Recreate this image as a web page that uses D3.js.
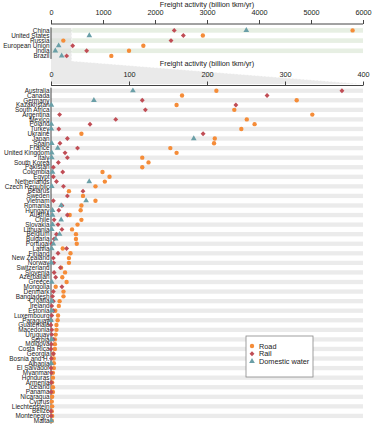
<!DOCTYPE html>
<html>
<head>
<meta charset="utf-8">
<script src="https://cdn.jsdelivr.net/npm/d3@7"></script>
<style>
  body { margin: 0; background: #fff; }
  svg { font-family: "Liberation Sans", Arial, sans-serif; display: block; }
</style>
</head>
<body>
<div id="container"></div>
<script>
// freight activity by mode: big six on top, zoomed view of the rest below

const topCountries = ["China", "United States", "Russia", "European Union", "India", "Brazil"];
const topRoad  = [5800, 2920, 237, 1776, 1500, 1160];
const topRail  = [2370, 2545, 2308, 417, 686, 301];
const topWater = [3756, 737, null, 147, 83, 205];
const topTicks = [0, 1000, 2000, 3000, 4000, 5000, 6000];

const countries = ["Australia", "Canada", "Germany", "Kazakhstan", "South Africa", "Argentina",
  "Mexico", "Poland", "Turkey", "Ukraine", "Japan", "Spain", "France", "United Kingdom", "Italy",
  "South Korea", "Pakistan", "Colombia", "Egypt", "Netherlands", "Czech Republic", "Belarus",
  "Sweden", "Vietnam", "Romania", "Hungary", "Austria", "Chile", "Slovakia", "Lithuania",
  "Belgium", "Bulgaria", "Portugal", "Latvia", "Finland", "New Zealand", "Norway", "Switzerland",
  "Slovenia", "Azerbaijan", "Greece", "Mongolia", "Denmark", "Bangladesh", "Croatia", "Ireland",
  "Estonia", "Luxembourg", "Paraguay", "Guatemala", "Macedonia", "Uruguay", "Serbia", "Moldova",
  "Costa Rica", "Georgia", "Bosnia and H.", "Albania", "El Salvador", "Myanmar", "Honduras",
  "Armenia", "Iceland", "Panama", "Nicaragua", "Cyprus", "Liechtenstein", "Belize",
  "Montenegro", "Malta"];
const road = [212, 168, 315, 161, 235, 335, 251, 261, 244, 39, 210, 209, 153, 161, 117,
  125, 117, 66, 75, 69, 57, 23, 41, 57, 39, 38, 24, 39, 34, 27,
  32, 32, 33, 15, 25, 23, 23, 13, 18, 14.5, 20, 6, 16, 16, 11, 10,
  5.5, 9, 8.5, 7, 7, 6, 5, 5, 5, 3, 3.5, 3.7, 3.7, 2.5, 2.5,
  1.5, 2.5, 2.5, 1.5, 1, 1.5, 1, 1.5, 1];
const rail = [373, 277, 117, 237, 121, 11, 83, 50, 10, 195, 21, 11.5, 34, 18, 21,
  9.4, 3, 15, 3, 7, 16, 41, 21, 3, 14, 10, 21, 4, 9, 14,
  7, 4, 1, 20, 9, 3, 3.5, 12, 4, 6, null, 14, 3, 2, 3, 1,
  3, 1, 0, 0, 1, 1, 3, 0.5, 0, 3, 0.5, null, 0, 0.5, null,
  0.5, null, 0.3, null, null, null, 0, 0.3, null];
const water = [105, null, 55, 0.5, null, null, null, 0.5, 0.5, null, 183, 1, 8.6, 1, 1,
  null, null, 2, null, 49, 1, null, null, 45, 13, 2, 2, 13, 2, 1,
  11, 6, 3, 1, null, null, 0.5, null, null, null, 1, null, null, null, 1, null,
  1, null, 0, null, null, null, 1, null, null, null, null, 0.3, null, null, null,
  null, null, null, null, null, null, null, null, 0.5];
const lowTicks = [0, 100, 200, 300, 400];

const modes = ["Road", "Rail", "Domestic water"];
const modeColors = ["#f58c38", "#c04d55", "#6a9fa7"];
const modeSymbols = [d3.symbolCircle, d3.symbolSquare, d3.symbolTriangle];
const modeSizes = [15, 12, 14];
const modeRotate = [0, 45, 0];

const width = 376, height = 425;
const left = 51, right = 363;

const svg = d3.select("#container").append("svg")
    .attr("width", width)
    .attr("height", height);

const xTop = d3.scaleLinear().domain([0, 6000]).range([left, right]);
const xLow = d3.scaleLinear().domain([0, 400]).range([left, right]);
const yTop = d3.scalePoint().domain(topCountries).range([30.4, 55.9]);
const yLow = d3.scalePoint().domain(countries).range([90.7, 420.7]);

const color = d3.scaleOrdinal().domain(modes).range(modeColors);
const symbol = d3.scaleOrdinal().domain(modes).range(modeSymbols);
const symSize = d3.scaleOrdinal().domain(modes).range(modeSizes);
const symRot = d3.scaleOrdinal().domain(modes).range(modeRotate);

// background bands
function bands(g, y, names, fill) {
    const step = y.step();
    g.selectAll("rect")
	.data(names.filter((d, i) => i % 2 === 0))
	.enter().append("rect")
	.attr("x", left)
	.attr("width", right - left)
	.attr("y", d => y(d) - step * 0.45)
	.attr("height", step * 0.9)
	.attr("fill", fill);
}
bands(svg.append("g"), yTop, topCountries, "#e7efe3");
bands(svg.append("g"), yLow, countries, "#ebebeb");

// zoom wedge from the 0-400 slice on top to the lower axis
const zTop = yTop.range()[0] - 2.5, zMid = yTop.range()[1] + 5, zLow = 84;
svg.append("path")
    .attr("d", d3.line()([[left, zTop], [xTop(400), zTop], [xTop(400), zMid],
			   [xLow(400), zLow], [left, zLow]]))
    .attr("fill", "#d9d9d9")
    .attr("fill-opacity", 0.55);
svg.append("path")
    .attr("d", d3.line()([[xTop(400), zTop], [xTop(400), zMid], [xLow(400), zLow]]))
    .attr("fill", "none")
    .attr("stroke", "#fff")
    .attr("stroke-dasharray", "2,1.5")
    .attr("stroke-width", 0.8);

// axes
function topAxis(scale, ticks, yLine, titleY) {
    const g = svg.append("g")
	.attr("transform", "translate(0," + yLine + ")")
	.call(d3.axisTop(scale).tickValues(ticks).tickSize(4).tickPadding(5)
	      .tickFormat(d3.format("d")));
    g.select(".domain").attr("stroke", "#444").attr("d", "M" + left + ",0H" + right);
    g.selectAll(".tick line").attr("stroke", "#444");
    g.selectAll(".tick text")
	.attr("font-size", 7.3)
	.attr("fill", "#222");
    g.attr("font-family", null);
    svg.append("text")
	.attr("x", (left + right) / 2)
	.attr("y", titleY)
	.attr("text-anchor", "middle")
	.attr("font-size", 7.3)
	.attr("fill", "#222")
	.text("Freight activity (billion tkm/yr)");
}
topAxis(xTop, topTicks, 24, 6.8);
topAxis(xLow, lowTicks, 85.5, 65.6);

// left axis lines
svg.append("line").attr("x1", left).attr("x2", left)
    .attr("y1", yTop.range()[0] - 3).attr("y2", yTop.range()[1] + 3)
    .attr("stroke", "#444");
svg.append("line").attr("x1", left).attr("x2", left)
    .attr("y1", yLow.range()[0] - 3).attr("y2", yLow.range()[1] + 3)
    .attr("stroke", "#444");

// country labels
function labels(y, names) {
    svg.append("g").selectAll("text")
	.data(names)
	.enter().append("text")
	.attr("x", left - 1.5)
	.attr("y", d => y(d))
	.attr("dy", "0.35em")
	.attr("text-anchor", "end")
	.attr("font-size", 6.4)
	.attr("fill", "#222")
	.text(d => d);
}
labels(yTop, topCountries);
labels(yLow, countries);

// points
function points(x, y, names, values, mode) {
    svg.append("g").selectAll("path")
	.data(names.map((n, i) => ({ name: n, v: values[i] })).filter(d => d.v !== null))
	.enter().append("path")
	.attr("transform", d => "translate(" + x(d.v) + "," + y(d.name) + ") rotate(" + symRot(mode) + ")")
	.attr("d", d3.symbol().type(symbol(mode)).size(symSize(mode)))
	.attr("fill", color(mode));
}
points(xTop, yTop, topCountries, topRoad, "Road");
points(xTop, yTop, topCountries, topRail, "Rail");
points(xTop, yTop, topCountries, topWater, "Domestic water");
points(xLow, yLow, countries, road, "Road");
points(xLow, yLow, countries, rail, "Rail");
points(xLow, yLow, countries, water, "Domestic water");

// legend
const legend = svg.append("g").attr("transform", "translate(246,336)");
legend.append("rect")
    .attr("width", 67).attr("height", 41)
    .attr("fill", "#fff").attr("stroke", "#888").attr("stroke-width", 0.8);
const item = legend.selectAll("g.item")
    .data(modes)
    .enter().append("g")
    .attr("transform", (d, i) => "translate(6," + (10 + i * 7.7) + ")");
item.append("path")
    .attr("transform", d => "rotate(" + symRot(d) + ")")
    .attr("d", d => d3.symbol().type(symbol(d)).size(symSize(d))())
    .attr("fill", d => color(d));
item.append("text")
    .attr("x", 7)
    .attr("dy", "0.35em")
    .attr("font-size", 7.3)
    .attr("fill", "#222")
    .text(d => d);
</script>
</body>
</html>
